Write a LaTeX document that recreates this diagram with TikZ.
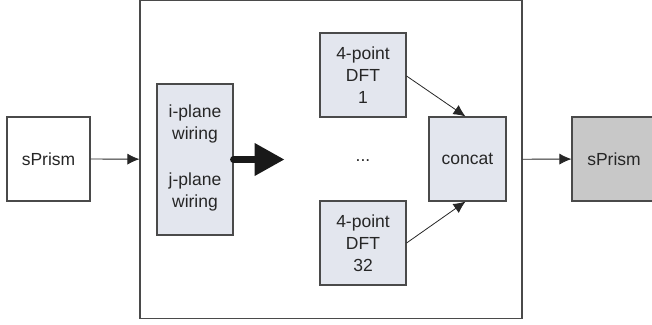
\documentclass[tikz,border=0pt]{standalone}
\usepackage{fontspec}
\setmainfont{Liberation Sans}
\usetikzlibrary{arrows.meta}

\definecolor{stagefill}{HTML}{E3E6EE}
\definecolor{outfill}{HTML}{C8C8C8}
\definecolor{edge}{HTML}{4A4A4A}

\begin{document}
\begin{tikzpicture}[x = 1pt, y = -1pt,
  every node/.style = {font=\fontsize{17.5}{22}\selectfont, text=black!85, align=center, inner sep=0pt},
  blk/.style = {draw=edge, line width=1.1pt, minimum width=83pt, minimum height=84pt},
  stage/.style = {blk, fill=stagefill, minimum width=86pt},
  flow/.style = {draw=black!85, line width=0.8pt, -{Latex[length=12pt, width=11pt]}}]
\useasboundingbox (0,0) rectangle (652,324);

\node[blk] (IN) at (48.5,159) {sPrism};
\node[blk, minimum width=382pt, minimum height=318pt] (BOX) at (331,159.5) {};
\node[stage, minimum width=76pt, minimum height=151pt, text depth=6pt] (WIRE) at (195,159.5)
  {i-plane\\wiring\\[24pt]j-plane\\wiring};
\node[stage] (D1) at (363,75) {4-point\\DFT\\1};
\node (DOTS) at (363,161) {...};
\node[stage] (D32) at (363,243) {4-point\\DFT\\32};
\node[stage, minimum width=77pt] (CAT) at (467.5,159) {concat};
\node[blk, fill=outfill, minimum width=84pt] (OUT) at (614,159) {sPrism};

\draw[flow] (IN) -- (BOX);
\draw[black!90, line width=7pt, line cap=round, -{Triangle[length=30pt, width=31pt]}]
  (WIRE.east) -- ++(51,0);
\draw[flow] (D1.east) ++(0,1) -- ([xshift=-2pt]CAT.north);
\draw[flow] (D32.east) -- ([xshift=-2pt]CAT.south);
\draw[flow] (BOX) -- (OUT);
\end{tikzpicture}
\end{document}
